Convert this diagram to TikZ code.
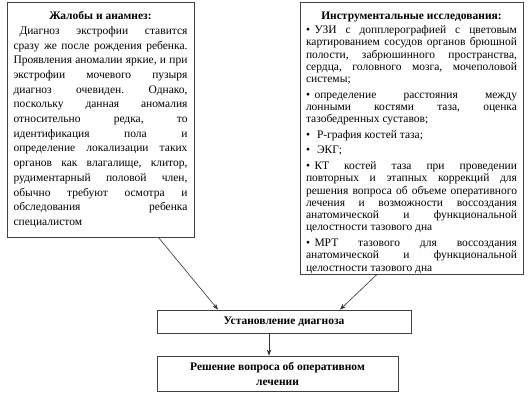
\documentclass[tikz,border=0pt]{standalone}
\usepackage{fontspec}
\setmainfont{Liberation Serif}
\usetikzlibrary{arrows.meta,shadows,calc}
\newcommand\jline[1]{\makebox[\linewidth][s]{#1}\par}
\newcommand\eline[1]{#1\par}
\newcommand\bul{•\hspace{4.5pt}}
\tikzset{
  box/.style={draw=black!75, line width=0.8pt, fill=white, rectangle, inner sep=0pt,
    drop shadow={shadow xshift=1.2pt, shadow yshift=-1.2pt, opacity=0.35, fill=black!60}},
  arr/.style={draw=black!80, line width=0.6pt, -{Stealth[length=6pt,width=4.5pt]}},
}
\begin{document}
\begin{tikzpicture}[x=1pt,y=-1pt]
\useasboundingbox (0,0) rectangle (531,400);
\fill[white] (0,0) rectangle (531,400);

% left box
\node[box, minimum width=187pt, minimum height=235pt] (L) at (100.5,119.5) {%
\parbox{174pt}{\fontsize{11.5}{14.7}\selectfont\frenchspacing\parindent=0pt\parskip=0pt
{\centering\bfseries Жалобы и анамнез:\par}
\hspace*{6pt}\makebox[\dimexpr\linewidth-6pt][s]{Диагноз экстрофии ставится}\par
\jline{сразу же после рождения ребенка.}
\jline{Проявления аномалии яркие, и при}
\jline{экстрофии мочевого пузыря}
\jline{диагноз очевиден. Однако,}
\jline{поскольку данная аномалия}
\jline{относительно редка, то}
\jline{идентификация пола и}
\jline{определение локализации таких}
\jline{органов как влагалище, клитор,}
\jline{рудиментарный половой член,}
\jline{обычно требуют осмотра и}
\jline{обследования ребенка}
\eline{специалистом}}};

% right box
\node[box, minimum width=223pt, minimum height=272pt] (R) at (411.5,138) {%
\parbox{211pt}{\fontsize{11.5}{12.3}\selectfont\frenchspacing\parindent=0pt\parskip=0pt
\vspace*{9pt}
{\centering\bfseries Инструментальные исследования:\par}
\vspace{2pt}
\jline{\bul УЗИ с допплерографией с цветовым}
\jline{картированием сосудов органов брюшной}
\jline{полости, забрюшинного пространства,}
\jline{сердца, головного мозга, мочеполовой}
\eline{системы;}
\vspace{3.2pt}
\jline{\bul определение расстояния между}
\jline{лонными костями таза, оценка}
\eline{тазобедренных суставов;}
\vspace{3.2pt}
\eline{•\hspace{7pt}Р-графия костей таза;}
\vspace{3.2pt}
\eline{•\hspace{7pt}ЭКГ;}
\vspace{3.2pt}
\jline{\bul КТ костей таза при проведении}
\jline{повторных и этапных коррекций для}
\jline{решения вопроса об объеме оперативного}
\jline{лечения и возможности воссоздания}
\jline{анатомической и функциональной}
\eline{целостности тазового дна}
\vspace{3.2pt}
\jline{\bul МРТ тазового для воссоздания}
\jline{анатомической и функциональной}
\eline{целостности тазового дна}}};

% diagnosis
\node[box, minimum width=254pt, minimum height=23pt, font=\fontsize{11.5}{14}\selectfont\bfseries] (D) at (284,321.5) {Установление диагноза};

% decision
\node[box, minimum width=241pt, minimum height=35pt, align=center, font=\fontsize{11.5}{15}\selectfont\bfseries] (S) at (277.5,373.5) {Решение вопроса об оперативном\\лечении};

% arrows
\draw[arr] ([xshift=-36pt]L.south east) -- ([xshift=-66pt]D.north);
\draw[arr] ([xshift=-34.5pt]R.south) -- ([xshift=56pt]D.north);
\draw[arr] ([xshift=-15pt]D.south) -- ([xshift=-15pt]D.south |- S.north);
\end{tikzpicture}
\end{document}
